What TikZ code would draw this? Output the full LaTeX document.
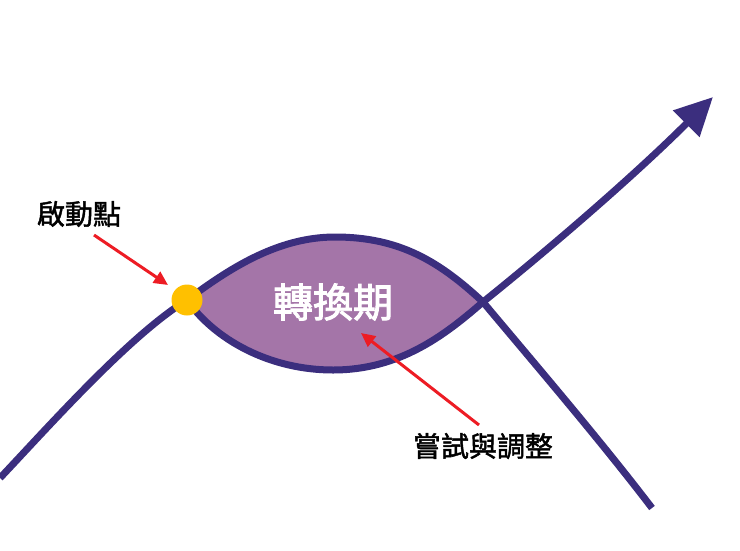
\documentclass[tikz,border=0pt]{standalone}
\usepackage{fontspec}
\setmainfont{Noto Sans CJK TC}
\newfontfamily\medfont{Noto Sans CJK TC}[FakeBold=1.6]
\newfontfamily\semifont{Noto Sans CJK TC}[FakeBold=2.4]
\usetikzlibrary{arrows.meta}
\definecolor{curveblue}{RGB}{59,46,126}
\definecolor{phasefill}{RGB}{164,117,168}
\definecolor{startdot}{RGB}{255,192,0}
\definecolor{pointer}{RGB}{237,28,36}
\tikzset{
  curve/.style={draw=curveblue, line width=7pt},
  pointerarrow/.style={draw=pointer, line width=3pt, -{Triangle[length=14pt,width=13pt]}},
  label/.style={font=\medfont\fontsize{28pt}{30pt}\selectfont, text=black, inner sep=0pt},
  phaselabel/.style={font=\semifont\fontsize{40pt}{44pt}\selectfont, text=white, inner sep=0pt}
}
\begin{document}
\begin{tikzpicture}[x=1pt,y=-1pt]
\useasboundingbox (0,0) rectangle (740,550);
% transition region fill
\fill[phasefill] (187,300) .. controls (225,272) and (275,237) .. (335,237)
  .. controls (400,237) and (440,262) .. (483,302)
  .. controls (445,335) and (400,370) .. (333,370)
  .. controls (270,370) and (215,340) .. (187,300) -- cycle;
% upper path: rising then falling
\draw[curve] (0,478) .. controls (50,425) and (130,335) .. (187,300)
  .. controls (225,272) and (275,237) .. (335,237)
  .. controls (400,237) and (440,262) .. (483,302)
  .. controls (540,370) and (600,440) .. (652,508);
% lower path: dipping then rising to arrow
\draw[curve, -{Triangle[length=38pt,width=36pt]}] (187,300)
  .. controls (215,340) and (270,370) .. (333,370)
  .. controls (400,370) and (445,335) .. (483,302)
  .. controls (560,240) and (640,170) .. (713,97);
% start dot
\fill[startdot] (187,300) circle (15.5);
\coordinate (dotedge) at (168,285);
\coordinate (phasepoint) at (361,333);
% texts
\node[phaselabel] (phase) at (333,302) {轉換期};
\node[label] (start) at (79,214) {啟動點};
\node[label] (adjust) at (483,446) {嘗試與調整};
% pointer arrows
\draw[pointerarrow] (94,235) -- (dotedge);
\draw[pointerarrow] (479,425) -- (phasepoint);
\end{tikzpicture}
\end{document}
